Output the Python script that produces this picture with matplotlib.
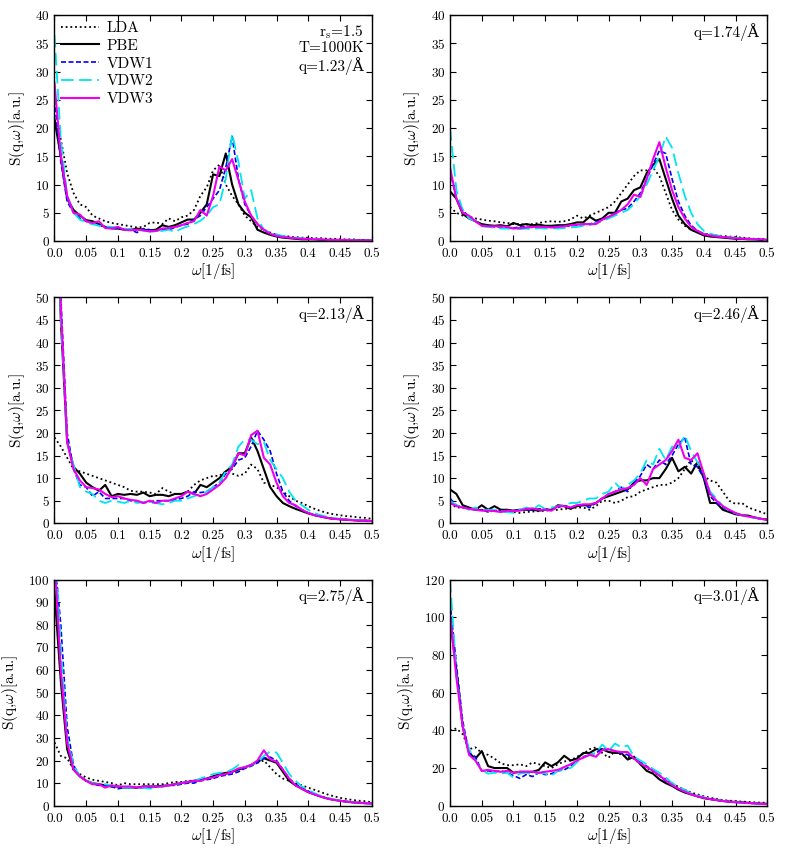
import numpy as np
import matplotlib
matplotlib.use("Agg")
import matplotlib.pyplot as plt

plt.rcParams["font.family"] = ["cmr10", "DejaVu Serif"]
plt.rcParams["mathtext.fontset"] = "cm"
plt.rcParams["axes.formatter.use_mathtext"] = True

# frequency grid [1/fs]
omega = np.round(np.arange(0, 0.501, 0.01), 2)

# q = 1.23 /A
lda1 = [21.4, 18, 12, 8.5, 6.5, 6, 4.5, 4, 3.5, 3.2, 3, 2.8, 2.6, 2.4, 2.5, 3.2, 3.3, 3, 4, 3.5, 4.2, 4.5, 5.5, 8, 9.5, 12.5, 13.5, 10, 8, 6.5, 4.5, 3.5, 2.5, 2, 1.5, 1.1, 0.9, 0.8, 0.7, 0.6, 0.6, 0.5, 0.5, 0.4, 0.4, 0.3, 0.3, 0.3, 0.2, 0.2, 0.2]
pbe1 = [21.5, 15, 7.5, 5.5, 4.5, 3.7, 3.5, 3, 2.5, 2.3, 2.2, 2, 2, 2.2, 2, 1.9, 2, 2.8, 2.5, 2.8, 3.3, 3.8, 3.8, 5, 6.5, 11.8, 11.5, 15.5, 10, 6.5, 5, 4.2, 2, 1.5, 1.1, 0.8, 0.6, 0.5, 0.4, 0.3, 0.3, 0.3, 0.2, 0.2, 0.2, 0.2, 0.1, 0.1, 0.1, 0.1, 0.1]
vdw1_1 = [25, 14, 7, 5, 4, 3.5, 3, 2.8, 2.4, 2.2, 2.2, 2.1, 2, 1.5, 2.2, 2, 1.8, 2, 2, 2.4, 2.8, 3, 3.8, 4.5, 6, 7.5, 9, 13, 18.5, 11, 6.5, 4.5, 3, 2, 1.3, 1, 0.8, 0.6, 0.5, 0.4, 0.4, 0.3, 0.3, 0.2, 0.2, 0.2, 0.2, 0.1, 0.1, 0.1, 0.1]
vdw2_1 = [36.5, 18, 8, 5, 3.8, 3.3, 3, 2.7, 2.6, 2.5, 2.4, 2.2, 2.1, 1.9, 1.8, 1.7, 1.7, 1.8, 2, 1.6, 2.2, 2.6, 3, 3.6, 4.5, 6, 6.5, 11, 19, 14, 7.5, 9, 4, 2, 1.5, 1.2, 0.9, 0.7, 0.6, 0.5, 0.4, 0.4, 0.3, 0.3, 0.2, 0.2, 0.2, 0.1, 0.1, 0.1, 0.1]
vdw3_1 = [28, 15, 8, 5, 4.7, 3.5, 3.2, 3.5, 2.3, 2.2, 2.5, 2, 1.9, 2, 1.9, 1.7, 1.8, 2.2, 2.3, 2.5, 2.8, 3.2, 3.5, 5.5, 4.5, 8, 13.2, 12.5, 14.5, 10.8, 7, 4.5, 3, 2, 1.3, 0.9, 0.7, 0.6, 0.5, 0.4, 0.4, 0.3, 0.3, 0.2, 0.2, 0.2, 0.2, 0.1, 0.1, 0.1, 0.1]

# q = 1.74 /A
lda2 = [6, 5, 4.5, 4.3, 4, 3.8, 3.6, 3.5, 3.3, 3.2, 3, 3, 2.9, 3, 3.2, 3.4, 3.5, 3.4, 3.5, 3.8, 4.5, 4, 4.5, 5, 5.5, 6, 7, 8.5, 10, 11.5, 12.5, 12.5, 13, 11.5, 8.5, 5.5, 3.8, 2.7, 2, 1.6, 1.3, 1.1, 1, 0.9, 0.8, 0.7, 0.6, 0.5, 0.4, 0.4, 0.3]
pbe2 = [8.8, 7.5, 4.8, 4, 3.5, 3, 2.8, 2.7, 2.8, 2.6, 3.2, 2.8, 3, 2.8, 2.9, 2.7, 2.7, 2.8, 2.8, 3, 3.3, 3.3, 4.3, 3.6, 4, 5, 5, 7, 7.5, 9, 9.5, 12, 13.5, 14.5, 11, 7.5, 4.5, 3, 2, 1.5, 1, 0.8, 0.7, 0.6, 0.5, 0.4, 0.4, 0.3, 0.3, 0.2, 0.2]
vdw1_2 = [12.5, 7.5, 5.5, 4.2, 3.5, 2.8, 2.6, 2.5, 2.5, 2.4, 2.3, 2.5, 2.5, 2.4, 2.5, 2.5, 2.5, 2.6, 2.6, 2.7, 2.8, 2.9, 3, 3.3, 3.8, 4.2, 5, 5.5, 5.8, 7, 8.5, 11, 13.5, 16, 15.5, 11, 7, 4.5, 2.8, 1.8, 1.3, 1, 0.8, 0.7, 0.6, 0.5, 0.4, 0.4, 0.3, 0.3, 0.2]
vdw2_2 = [20, 9, 5.5, 4, 3.5, 2.6, 2.5, 2.4, 2.2, 2.2, 2.2, 2.1, 2.2, 2.1, 2.3, 2.2, 2.3, 2.2, 2.3, 2.4, 2.5, 2.7, 2.8, 3.2, 3.5, 4, 4.5, 5, 5.5, 6.5, 8, 10, 12.5, 15, 18.5, 16.5, 12, 8, 5, 3, 1.8, 1.3, 1, 0.8, 0.7, 0.6, 0.5, 0.4, 0.3, 0.3, 0.2]
vdw3_2 = [13, 7.5, 5, 4.5, 3.5, 2.7, 2.6, 2.6, 2.6, 2.5, 2.2, 2.3, 2.4, 2.5, 2.5, 2.5, 2.4, 2.5, 2.6, 2.8, 2.9, 3, 3, 3, 3.8, 4.3, 4.8, 5.5, 6.5, 8.2, 7.8, 11, 14.5, 17.5, 13, 9, 6, 4, 2.5, 1.8, 1.2, 1, 0.8, 0.7, 0.6, 0.5, 0.4, 0.4, 0.3, 0.3, 0.2]

# q = 2.13 /A
lda3 = [19, 17, 14.5, 12, 11.5, 11, 10.5, 10, 9.5, 9, 8.5, 8, 7.2, 7, 7, 6.8, 6.5, 7.8, 7, 6.5, 6.5, 7, 8.5, 9.5, 10, 10.5, 10.5, 11.5, 11, 10.5, 11, 13, 12, 9, 8.5, 8, 7, 6, 5, 4.5, 3.8, 3.2, 2.7, 2.3, 2, 1.8, 1.6, 1.5, 1.3, 1.2, 1]
pbe3 = [90, 45, 18, 12.5, 11, 9, 8, 7.2, 8.5, 6, 6.5, 6.3, 6.5, 6.3, 6.8, 6, 6.3, 6.3, 6, 6.5, 6.5, 7, 6.5, 8.5, 8, 9, 10, 11.5, 12.5, 15.5, 15.5, 19, 16, 12, 8, 6, 4.5, 3.8, 3.2, 2.7, 2.2, 1.8, 1.5, 1.2, 1, 0.9, 0.8, 0.7, 0.6, 0.6, 0.5]
vdw1_3 = [90, 50, 20, 12, 8.5, 8, 6, 7, 5.5, 5.5, 5.5, 5.5, 5, 5, 4.5, 4.8, 5, 5, 5, 5.2, 5.5, 6, 7, 6.8, 7, 8, 9, 11, 12, 14, 14.5, 17, 20.5, 18.5, 16, 11, 7, 5, 3.8, 3, 2.3, 1.8, 1.5, 1.2, 1, 0.9, 0.8, 0.7, 0.6, 0.6, 0.5]
vdw2_3 = [90, 45, 18, 13, 8, 7, 6.5, 5, 4.5, 5, 4.8, 4.5, 5, 4.5, 4.7, 4.5, 4.5, 4.2, 4.5, 5, 5, 5.5, 6, 6.5, 7, 8, 9, 11.5, 13, 17, 18.5, 18.5, 17.5, 18, 14, 12, 10, 7, 5, 4, 3, 2.2, 1.8, 1.4, 1.2, 1, 0.9, 0.8, 0.7, 0.6, 0.5]
vdw3_3 = [90, 48, 18, 12, 9.5, 8, 7.8, 7.5, 6.5, 5.8, 6, 5.5, 5.2, 5, 4.5, 5, 4.5, 5, 5, 5.5, 6, 7, 6.5, 6, 6.5, 7.5, 8.5, 10, 12.5, 15.5, 15, 19.5, 20.5, 14.5, 13, 9, 6, 4.5, 4, 3, 2.3, 1.8, 1.5, 1.2, 1, 0.9, 0.8, 0.7, 0.6, 0.6, 0.5]

# q = 2.46 /A
lda4 = [4.5, 3.5, 3.5, 3.2, 3, 3, 2.8, 2.8, 2.8, 2.5, 2.5, 2.3, 2.5, 2.6, 2.7, 2.8, 2.9, 3, 3.2, 3.3, 3.5, 3.5, 3, 3.8, 5, 5, 4.5, 5, 5.8, 6, 7, 7.5, 8, 8.5, 8.5, 9, 10, 12, 14, 12.5, 10.5, 9.5, 9, 7, 5, 4.3, 4.5, 3.5, 3, 2.5, 2]
pbe4 = [7.5, 6.5, 4, 3.5, 3, 4, 3, 3.8, 3, 3, 2.8, 3, 3, 3, 2.8, 3, 3, 4, 3.8, 3.2, 3.8, 4, 4, 4.5, 5.5, 6, 6.5, 7, 7.5, 9, 9.5, 9.5, 10, 10, 12, 14.5, 11.5, 12.5, 11, 13.5, 10, 4.5, 4.5, 3, 2.5, 2, 1.8, 1.7, 1.3, 1, 0.8]
vdw1_4 = [5.5, 4, 3.5, 3.3, 3, 3, 2.5, 2.8, 2.8, 2.8, 2.8, 3, 3, 3, 3.2, 3.2, 3, 3.5, 4, 3.5, 4, 4, 3.5, 4.5, 5.5, 6.5, 7, 8, 7, 9, 10.5, 13, 12, 14, 13, 15, 17.5, 19, 13, 12.5, 10, 6, 4.5, 3.5, 2.8, 2.2, 1.8, 1.5, 1.2, 1, 0.8]
vdw2_4 = [5, 4, 3.5, 3, 3.5, 3, 3, 3, 2.7, 2.5, 2.3, 3, 3.5, 3, 4, 3.2, 3.5, 3.8, 4, 4.5, 4.5, 5, 5.5, 5.5, 6.5, 7, 9, 7.5, 8.5, 9.5, 11, 14, 13, 16.5, 14, 17, 16.5, 19.5, 16, 13.5, 11, 7, 5.5, 3.8, 2.8, 2.2, 1.8, 1.5, 1.2, 1, 0.8]
vdw3_4 = [4.5, 3.8, 3.5, 3.2, 3, 2.8, 2.8, 2.7, 2.5, 2.8, 2.7, 2.8, 3.2, 3.3, 3, 3, 2.8, 3.8, 3.8, 3.5, 4, 4.2, 4.2, 4.5, 5.5, 6.5, 7, 7.5, 7.8, 8.5, 10, 8.5, 12, 13, 14, 16, 18.5, 14.5, 14, 15.5, 11, 6.5, 5, 3.8, 3, 2.3, 1.8, 1.5, 1.3, 1, 0.8]

# q = 2.75 /A
lda5 = [28, 22, 21, 16, 14, 12.5, 11.5, 11, 10.5, 10, 9, 10, 9.5, 9.5, 9.5, 9.5, 9.5, 9.5, 10, 10.5, 10.5, 11, 11, 11.5, 12, 12.5, 13.5, 14, 15, 16, 17, 18, 19, 20, 17, 14, 12, 11, 10, 9, 8, 7, 6, 5, 4.2, 3.5, 3, 2.5, 2.2, 2, 1.5]
pbe5 = [95, 55, 25, 16, 13, 11, 10, 9.5, 9, 8.5, 8.5, 8, 8, 8, 8.5, 8.5, 8.5, 8.8, 9, 9.5, 10, 10.5, 11, 11.5, 12, 13, 14, 14.5, 15, 16, 17, 18, 19.5, 21, 20, 19, 15, 11, 9, 7.5, 6, 5, 4, 3.2, 2.6, 2.2, 1.8, 1.5, 1.3, 1.1, 1]
vdw1_5 = [110, 80, 35, 18, 13, 11, 9.5, 9, 9, 8.5, 7.5, 8, 8.5, 7.8, 8, 8, 8.5, 8.5, 9, 9, 9.5, 10, 10, 11, 11.5, 12, 13, 13.5, 14, 15, 16.5, 17.5, 19, 21, 21.5, 20, 16, 12, 9.5, 8, 6.5, 5, 4, 3.3, 2.7, 2.2, 1.8, 1.5, 1.3, 1.1, 1]
vdw2_5 = [120, 70, 30, 18, 13, 11, 10, 9.5, 9.5, 9, 8.5, 8, 8, 8, 8, 7.5, 8, 8.5, 9, 9.5, 10, 10.5, 11, 12, 13, 14, 14.5, 15, 16, 18, 17, 18, 19, 22, 24, 23.5, 19, 14, 11, 8.5, 7, 5.5, 4.3, 3.5, 2.8, 2.3, 1.9, 1.6, 1.3, 1.1, 1]
vdw3_5 = [110, 60, 28, 16, 13, 11, 9.5, 9.5, 8, 9, 8.5, 8.5, 8.5, 8, 8.5, 8.5, 8.5, 8.5, 9, 9.5, 10, 10.5, 11, 11, 12, 12.5, 13.5, 14, 15, 16.5, 17, 18, 20, 24.5, 20.5, 19.5, 16, 12, 9, 7.5, 6, 5, 4, 3.2, 2.6, 2.2, 1.8, 1.5, 1.3, 1.1, 1]

# q = 3.01 /A
lda6 = [40, 41, 38, 30, 31, 28, 27, 25, 22.5, 21.5, 21.5, 22, 21, 23, 22, 21, 20, 22, 23.5, 24, 26, 27.5, 30, 31, 28, 25.5, 29, 27, 26, 25, 22, 20, 18, 16, 14, 12, 10, 8.5, 7, 6, 5, 4.2, 3.6, 3, 2.7, 2.4, 2.2, 2, 1.8, 1.6, 1.5]
pbe6 = [100, 72, 42, 28, 25, 29, 21, 20, 20, 20, 17.5, 18, 18, 18, 19, 23, 21, 23, 26.5, 24, 25, 28, 28, 30, 30, 28.5, 28, 28, 24.5, 26, 22, 18.5, 17, 14, 12, 10.5, 8.5, 7, 6, 5, 4, 3.5, 3, 2.5, 2.2, 2, 1.8, 1.5, 1.3, 1.1, 1]
vdw1_6 = [108, 75, 45, 28, 26, 18.5, 18.5, 18, 18.5, 17.5, 16, 14.5, 16.5, 15.5, 17.5, 16.5, 17, 18.5, 19, 21, 24, 26, 27, 28, 30, 30, 29, 28, 27, 25, 23, 21, 18.5, 16, 13, 11, 9, 7.5, 6.2, 5, 4.2, 3.5, 3, 2.5, 2.1, 1.8, 1.6, 1.4, 1.2, 1, 0.9]
vdw2_6 = [120, 70, 42, 30, 24, 19, 17, 17.5, 17, 17.5, 15, 17, 17.5, 16.5, 17.5, 17, 16, 18.5, 19.5, 20, 23, 25.5, 27, 28, 32.5, 29, 33, 31, 32, 26, 24, 22, 19.5, 17.5, 15, 12, 10, 8.5, 6.5, 5.5, 4.5, 3.8, 3.2, 2.6, 2.2, 1.9, 1.6, 1.4, 1.2, 1, 0.9]
vdw3_6 = [102, 68, 42, 27, 24, 18.5, 19, 18.5, 18, 18.5, 17.5, 18, 18, 18, 17.5, 18, 18.5, 19, 20.5, 22, 24, 25.5, 27, 26, 29.5, 30, 29, 28.5, 28.5, 25, 22.5, 20.5, 18.5, 16, 13.5, 11, 9, 7.5, 6, 5, 4.2, 3.5, 3, 2.5, 2.1, 1.8, 1.6, 1.4, 1.2, 1, 0.9]

q_labels = ["1.23", "1.74", "2.13", "2.46", "2.75", "3.01"]
y_max = [40, 40, 50, 50, 100, 120]
y_step = [5, 5, 5, 5, 10, 20]
x_ticks = [0.0, 0.05, 0.1, 0.15, 0.2, 0.25, 0.3, 0.35, 0.4, 0.45, 0.5]
x_ticklabels = ["0.0", "0.05", "0.1", "0.15", "0.2", "0.25", "0.3", "0.35", "0.4", "0.45", "0.5"]

panels = [
    [lda1, pbe1, vdw1_1, vdw2_1, vdw3_1],
    [lda2, pbe2, vdw1_2, vdw2_2, vdw3_2],
    [lda3, pbe3, vdw1_3, vdw2_3, vdw3_3],
    [lda4, pbe4, vdw1_4, vdw2_4, vdw3_4],
    [lda5, pbe5, vdw1_5, vdw2_5, vdw3_5],
    [lda6, pbe6, vdw1_6, vdw2_6, vdw3_6],
]

names = ["LDA", "PBE", "VDW1", "VDW2", "VDW3"]
styles = [
    dict(color="black", lw=1.3, dashes=(1, 1.6)),
    dict(color="black", lw=1.5),
    dict(color="#0000ee", lw=1.2, dashes=(3, 1.5)),
    dict(color="#00e5ee", lw=1.3, dashes=(7, 3)),
    dict(color="#ee00ee", lw=1.5),
]

fig = plt.figure(figsize=(7.93, 8.49), dpi=100)

lefts = [0.0687, 0.5675]
bottoms = [0.7161, 0.3836, 0.051]
w, h = 0.400, 0.2662

for i, series in enumerate(panels):
    r, c = divmod(i, 2)
    ax = fig.add_axes([lefts[c], bottoms[r], w, h])
    for name, vals, st in zip(names, series, styles):
        ax.plot(omega, vals, label=name, **st)

    ax.set_xlim(0, 0.5)
    ax.set_ylim(0, y_max[i])
    ax.set_xticks(x_ticks)
    ax.set_xticklabels(x_ticklabels)
    ax.set_yticks(np.arange(0, y_max[i] + 1, y_step[i]))
    ax.tick_params(direction="in", top=True, right=True, labelsize=9.5,
                   length=4, width=0.8)
    ax.tick_params(axis="x", pad=5)
    for sp in ax.spines.values():
        sp.set_linewidth(1.0)
    ax.set_xlabel(r"$\omega$[1/fs]", fontsize=11, labelpad=1)
    ax.set_ylabel(r"S(q,$\omega$)[a.u.]", fontsize=11, labelpad=6)

    if i == 0:
        ax.legend(loc="upper left", frameon=False, fontsize=11,
                  handlelength=2.5, handletextpad=0.5, labelspacing=0.27,
                  borderaxespad=0.2, borderpad=0.2)
        txt = "r$_{\\rm s}$=1.5\nT=1000K\nq=" + q_labels[i] + "/Å"
    else:
        txt = "q=" + q_labels[i] + "/Å"
    ax.text(0.975, 0.965, txt, transform=ax.transAxes, ha="right", va="top",
            fontsize=11, linespacing=1.1)

fig.savefig("out.png", dpi=100)
